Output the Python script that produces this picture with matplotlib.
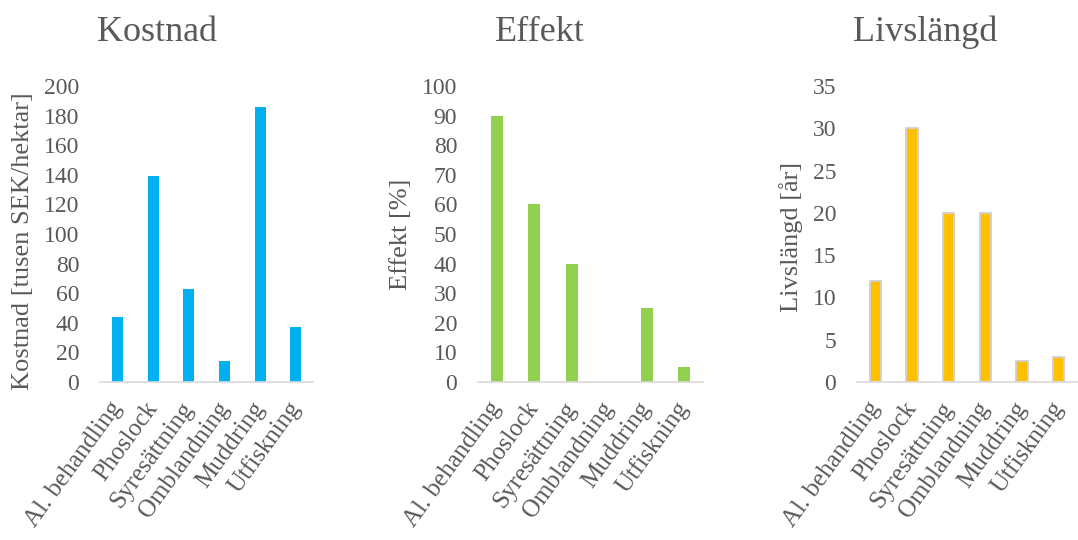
import matplotlib
matplotlib.use("Agg")
import matplotlib.pyplot as plt

plt.rcParams['font.family'] = ['Liberation Serif', 'DejaVu Serif']

# åtgärder och värden per diagram
atgarder = ["Al. behandling", "Phoslock", "Syresättning", "Omblandning", "Muddring", "Utfiskning"]
kostnad = [44, 139, 63, 14, 186, 37]
effekt = [90, 60, 40, 0, 25, 5]
livslangd = [12, 30, 20, 20, 2.5, 3]

textgra = "#595959"
axelgra = "#D9D9D9"

fig = plt.figure(figsize=(10.78, 5.40), dpi=100)

paneler = [
    # (data, färg, kantfärg, kantbredd, titel, ylabel, ymax, ysteg, axes-rect, titel-x, label-x, label-y)
    (kostnad, "#00B0F0", "#00B0F0", 0, "Kostnad", "Kostnad [tusen SEK/hektar]", 200, 20,
     [0.0928, 0.2926, 0.198, 0.548], 0.146, -0.31, 0.475),
    (effekt, "#92D050", "#92D050", 0, "Effekt", "Effekt [%]", 100, 10,
     [0.4434, 0.2926, 0.2087, 0.548], 0.501, -0.293, 0.5),
    (livslangd, "#FFC000", "#D0D0D0", 1.3, "Livslängd", "Livslängd [år]", 35, 5,
     [0.795, 0.2926, 0.204, 0.548], 0.858, -0.245, 0.49),
]

for data, farg, kant, kb, titel, ylabel, ymax, ysteg, rect, tx, lx, ly in paneler:
    ax = fig.add_axes(rect)
    x = range(len(atgarder))
    ax.bar(x, data, width=0.31, color=farg, edgecolor=kant, linewidth=kb, zorder=2)
    ax.set_xlim(-0.5, len(atgarder) - 0.5)
    ax.set_ylim(0, ymax)
    ax.set_yticks(range(0, ymax + 1, ysteg))
    ax.set_xticks(list(x))
    ax.set_xticklabels(atgarder, rotation=54, ha="right", va="center", rotation_mode="anchor")
    for sida in ["top", "right", "left"]:
        ax.spines[sida].set_visible(False)
    ax.spines["bottom"].set_color(axelgra)
    ax.spines["bottom"].set_linewidth(1.2)
    ax.tick_params(axis="y", length=0, pad=15, labelsize=17, labelcolor=textgra)
    ax.tick_params(axis="x", length=0, pad=16, labelsize=18, labelcolor=textgra)
    ax.set_ylabel(ylabel, fontsize=19, color=textgra)
    ax.yaxis.set_label_coords(lx, ly)
    fig.text(tx, 0.94, titel, fontsize=26, color=textgra, ha="center", va="center")

fig.savefig("out.png", dpi=100)
